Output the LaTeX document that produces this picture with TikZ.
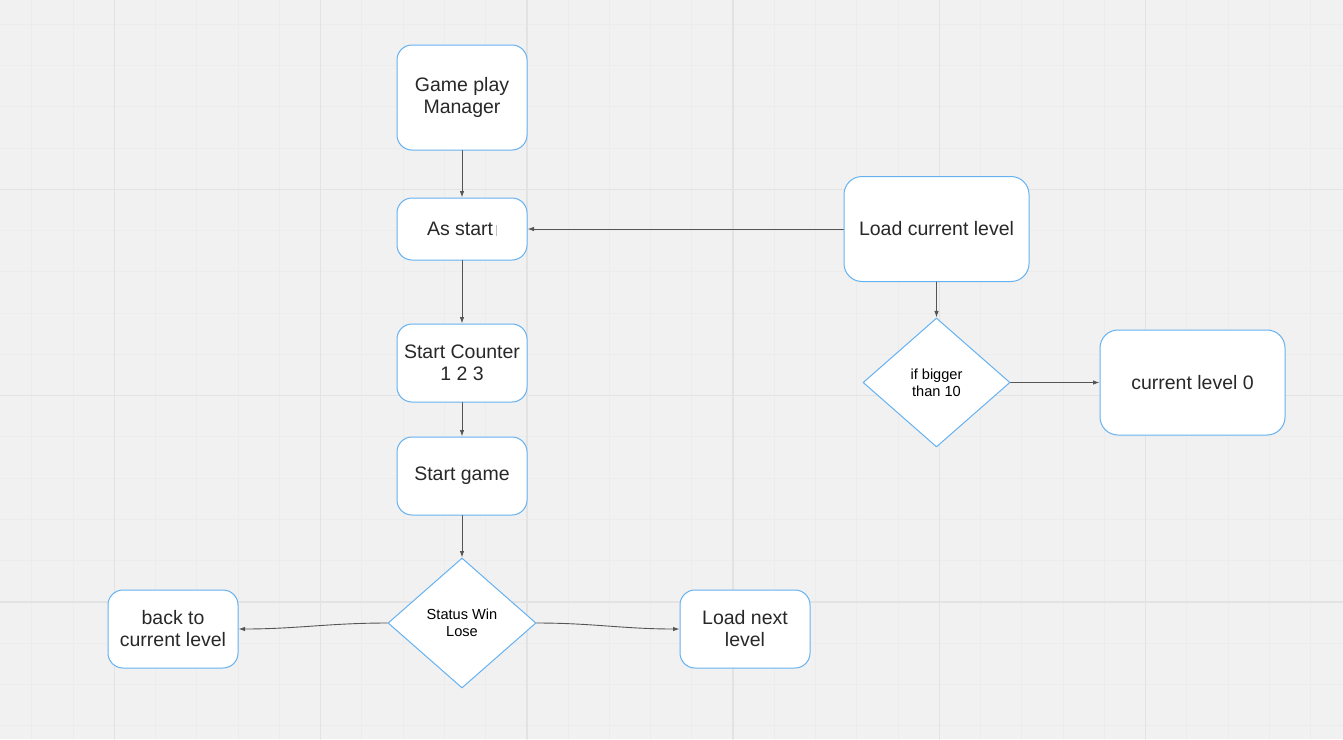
\documentclass[tikz,border=0pt]{standalone}
\usepackage{fontspec}
\setmainfont{Liberation Sans}
\usepackage{xcolor}
\usepackage{tikz}
\usetikzlibrary{arrows.meta,shapes.geometric,calc}
\definecolor{boxblue}{RGB}{102,178,240}
\definecolor{paper}{RGB}{241,241,241}
\definecolor{gridminor}{RGB}{236,236,236}
\definecolor{gridmajor}{RGB}{227,227,227}
\definecolor{txt}{RGB}{40,40,40}
\definecolor{wire}{RGB}{85,85,85}

\begin{document}
\begin{tikzpicture}[line cap=round,line join=round,>={Latex[length=6.5pt,width=4.5pt]},x=1pt,y=-1pt,
  box/.style={draw=boxblue,fill=white,line width=1pt,rounded corners=15pt,minimum width=130pt,minimum height=78pt,inner sep=0pt,align=center,text=txt,font=\fontsize{19.5}{22}\selectfont},
  bigbox/.style={box,rounded corners=18pt,minimum width=185pt,minimum height=105pt},
  test/.style={diamond,draw=boxblue,fill=white,line width=1pt,minimum width=148pt,minimum height=130pt,inner sep=0pt,align=center,text=black,font=\fontsize{14.6}{16.8}\selectfont},
  wire/.style={->,draw=wire,line width=0.9pt}]
\fill[paper] (0,0) rectangle (1343,739);
\useasboundingbox (0,0) rectangle (1343,739);
\clip (0,0) rectangle (1343,739);
% grid
\foreach \i in {0,...,31} \draw[gridminor,line width=1pt] ({31.8+41.25*\i},0) -- ({31.8+41.25*\i},739);
\foreach \j in {0,...,17} \draw[gridminor,line width=1pt] (0,{24.3+41.25*\j}) -- (1343,{24.3+41.25*\j});
\foreach \i in {0,...,5} \draw[gridmajor,line width=1.4pt] ({114.3+206.25*\i},0) -- ({114.3+206.25*\i},739);
\foreach \j in {0,...,2} \draw[gridmajor,line width=1.4pt] (0,{189.3+206.25*\j}) -- (1343,{189.3+206.25*\j});
% left column
\node[box,minimum height=105pt] (gpm) at (462,97.5) {Game play\\Manager};
\node[box,minimum height=62pt] (asstart) at (462,229) {As start\,\textcolor{black!25}{\rule[-1pt]{0.6pt}{11pt}}};
\node[box] (counter) at (462,363) {Start Counter\\1 2 3};
\node[box] (game) at (462,476) {Start game};
\node[test] (status) at (462,623) {Status Win\\Lose};
\node[box] (back) at (173,629) {back to\\current level};
\node[box] (next) at (745,629) {Load next\\level};
% right part
\node[bigbox] (loadcur) at (936.5,229) {Load current level};
\node[test,minimum width=147pt,minimum height=129pt] (bigger) at (936.5,382.5) {if bigger\\than 10};
\node[bigbox] (zero) at (1192.5,382.5) {current level 0};
\draw[wire] (gpm) -- (asstart);
\draw[wire] (loadcur) -- (asstart);
\draw[wire] (asstart) -- (counter);
\draw[wire] (counter) -- (game);
\draw[wire] (game) -- (status);
\draw[wire] (status.west) to[out=180,in=0] (back.east);
\draw[wire] (status.east) to[out=0,in=180] (next.west);
\draw[wire] (loadcur) -- (bigger);
\draw[wire] (bigger) -- (zero);
\end{tikzpicture}
\end{document}
